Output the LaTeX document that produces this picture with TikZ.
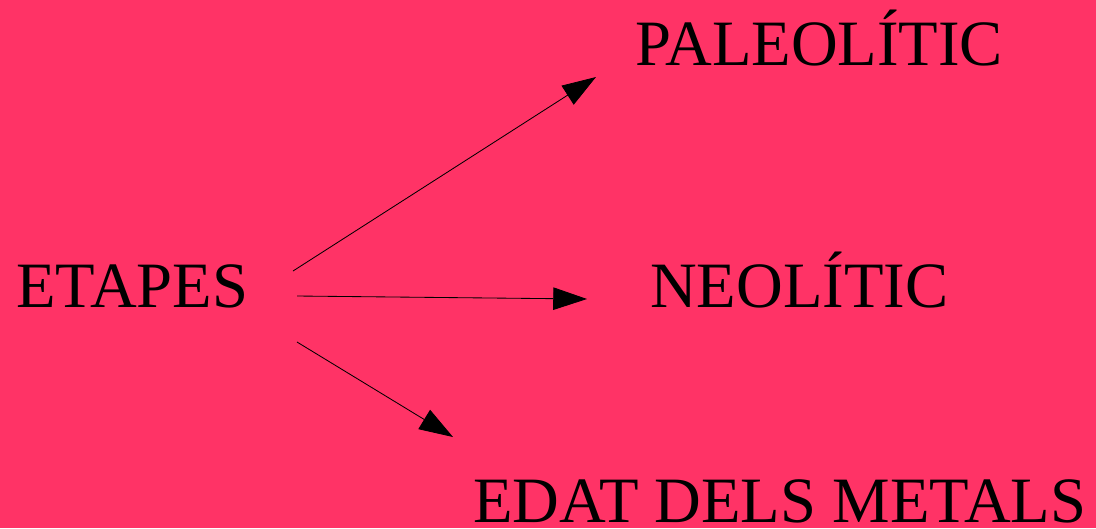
\documentclass[tikz,border=0pt]{standalone}
\usepackage{fontspec}
\setmainfont{Liberation Serif}
\usetikzlibrary{arrows.meta}
\usetikzlibrary{positioning}
\definecolor{fons}{RGB}{255,51,102}

\begin{document}
\begin{tikzpicture}[x=0.025cm, y=-0.025cm,
    every node/.style={inner sep=0pt, anchor=base west, font=\fontsize{46}{50}\selectfont},
    fletxa/.style={-{Triangle[length=24pt, width=16pt]}, line width=0.6pt}]
    \fill[fons] (0,0) rectangle (1096,528);
    \useasboundingbox (0,0) rectangle (1096,528);
    \node (etapes) at (16,307) {ETAPES};
    \node (paleo) at (635,65) {PALEOLÍTIC};
    \node (neo) at (650,307) {NEOLÍTIC};
    \node (metals) at (473,522) {EDAT DELS METALS};

    \coordinate (s1) at (293,271);
    \coordinate (s2) at (297,296);
    \coordinate (s3) at (297,342);
    \coordinate (e1) at (596,77);
    \coordinate (e2) at (587,299);
    \coordinate (e3) at (453,437);

    \draw[fletxa] (s1) -- (e1);
    \draw[fletxa] (s2) -- (e2);
    \draw[fletxa] (s3) -- (e3);
\end{tikzpicture}
\end{document}
